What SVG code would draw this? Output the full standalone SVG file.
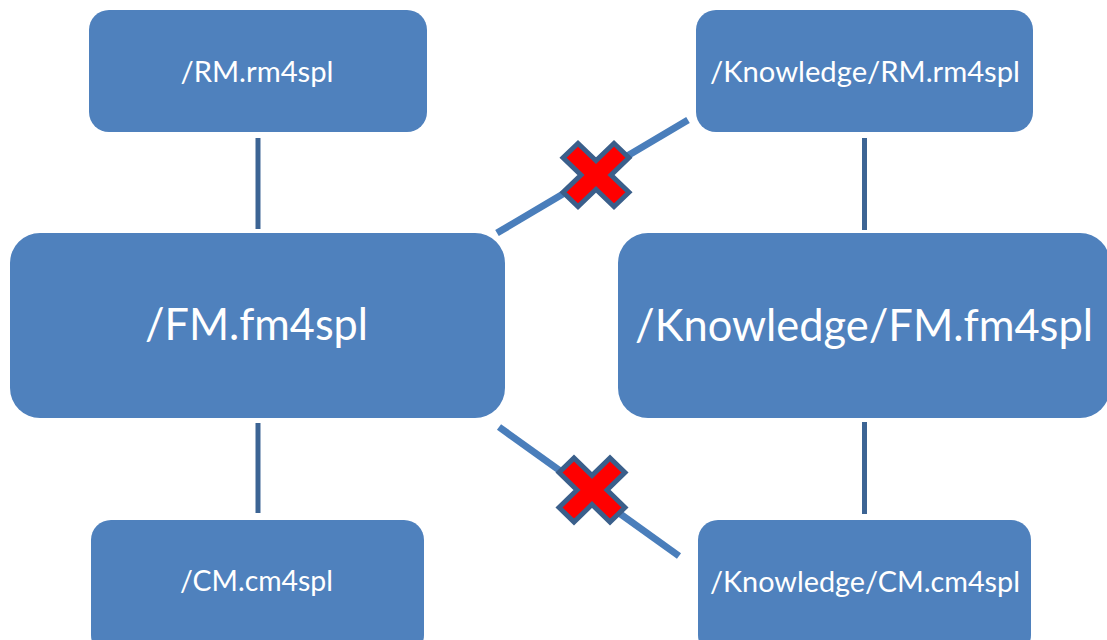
<svg xmlns="http://www.w3.org/2000/svg" width="1107" height="640" viewBox="0 0 1107 640">
  <style>
    .box { fill: #4F81BD; }
    .lbl { fill: #FFFFFF; font-family: Lato, "Open Sans", "Liberation Sans", sans-serif; text-anchor: middle; }
    .sm { font-size: 29px; }
    .lg { font-size: 44px; }
    .link { stroke: #3C6494; stroke-width: 5; fill: none; }
    .cut { stroke: #4A7EBB; stroke-width: 7; fill: none; }
    .nope { fill: #FF0000; stroke: #3A5F8B; stroke-width: 5; stroke-linejoin: miter; }
  </style>
  <defs>
    <!-- four-armed "x" mark, arms on the diagonals -->
    <polygon id="cross" points="-33,-18 -18,-33 0,-15 18,-33 33,-18 15,0 33,18 18,33 0,15 -18,33 -33,18 -15,0"/>
  </defs>
  <rect width="1107" height="640" fill="#FFFFFF"/>

  <g id="connectors">
    <line class="link" x1="258" y1="138" x2="258" y2="229"/>
    <line class="link" x1="258" y1="423" x2="258" y2="513"/>
    <line class="link" x1="864.5" y1="138" x2="864.5" y2="230"/>
    <line class="link" x1="864.5" y1="422" x2="864.5" y2="514"/>
    <line class="cut" x1="497" y1="233" x2="688" y2="120"/>
    <line class="cut" x1="499" y1="427" x2="679" y2="556"/>
    <use href="#cross" class="nope" transform="translate(596,175) scale(1,0.96)"/>
    <use href="#cross" class="nope" transform="translate(592,490) scale(1,0.97)"/>
  </g>

  <g id="rm">
    <rect class="box" x="89" y="10" width="338" height="122" rx="20"/>
    <text class="lbl sm" x="257" y="82" textLength="153" lengthAdjust="spacingAndGlyphs">/RM.rm4spl</text>
  </g>
  <g id="knowledge-rm">
    <rect class="box" x="696" y="10" width="337" height="122" rx="20"/>
    <text class="lbl sm" x="865" y="82" textLength="310" lengthAdjust="spacingAndGlyphs">/Knowledge/RM.rm4spl</text>
  </g>
  <g id="fm">
    <rect class="box" x="10" y="233" width="495" height="185" rx="30"/>
    <text class="lbl lg" x="256.5" y="340" textLength="223" lengthAdjust="spacingAndGlyphs">/FM.fm4spl</text>
  </g>
  <g id="knowledge-fm">
    <rect class="box" x="618" y="233" width="492" height="185" rx="30"/>
    <text class="lbl lg" x="864" y="341" textLength="458" lengthAdjust="spacingAndGlyphs">/Knowledge/FM.fm4spl</text>
  </g>
  <g id="cm">
    <rect class="box" x="91" y="520" width="333" height="135" rx="20"/>
    <text class="lbl sm" x="256.5" y="591" textLength="153" lengthAdjust="spacingAndGlyphs">/CM.cm4spl</text>
  </g>
  <g id="knowledge-cm">
    <rect class="box" x="698" y="520" width="333" height="135" rx="20"/>
    <text class="lbl sm" x="865" y="592" textLength="310" lengthAdjust="spacingAndGlyphs">/Knowledge/CM.cm4spl</text>
  </g>
</svg>
